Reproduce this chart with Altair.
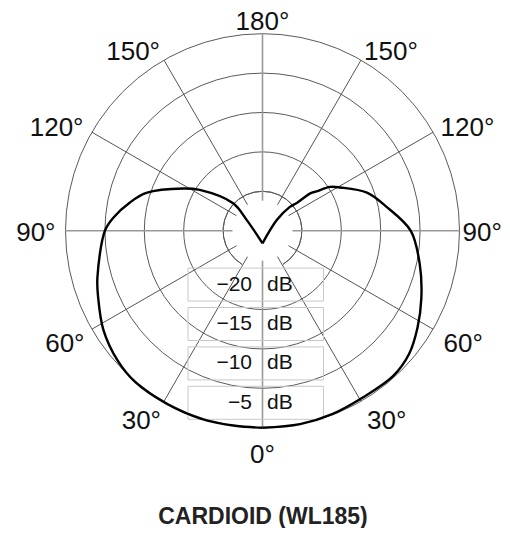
import altair as alt
import pandas as pd

# ---- data ----
# Response path (angle in degrees from the 0° axis; negative = left half), level in dB
left_angle = [0, -124, -133, -123, -118, -108, -102, -95, -90, -74, -68, -58, -48, -40, -29, -18, -8, 0]
left_db = [-23.4, -22.6, -19.9, -15.5, -13.6, -9.5, -7.8, -6.0, -5.0, -3.2, -2.5, -1.2, -0.3, 0.1, 0.1, 0.1, 0.0, 0.0]
right_angle = [0, 11, 21, 31, 42, 50, 58, 67, 78, 90, 101, 110, 119, 123, 126, 128, 129, 131, 127, 0]
right_db = [0.0, 0.0, -0.1, -0.3, -0.2, -0.7, -1.8, -3.1, -4.6, -6.2, -9.0, -10.9, -13.7, -14.8, -16.5, -17.3, -19.4, -20.4, -22.7, -23.4]

ring_db = [-15, -10, -5, 0]
inner_ring_db = [-20]
label_db = [-20, -15, -10, -5]
label_num = ["\u221220", "\u221215", "\u221210", "\u22125"]
spoke_deg = [0, 30, 60, 90, 120, 150, 180, 210, 240, 270, 300, 330]
deg_angle = [0, 30, 60, 90, 120, 150, 180, -30, -60, -90, -120, -150]
deg_text = ["0°", "30°", "60°", "90°", "120°", "150°", "180°", "30°", "60°", "90°", "120°", "150°"]
title_text = "CARDIOID (WL185)"

# ---- geometry / style ----
R = 197.0          # pixel radius of the 0 dB ring
FLOOR = -25.0      # level at the centre
W, H = 494, 520
CX, CY = 254.5, 222.7   # centre of the diagram inside the view, px
xs = alt.Scale(domain=[-CX, W - CX], nice=False, zero=False)
ys = alt.Scale(domain=[-(H - CY), CY], nice=False, zero=False)
RPX = f"{R}*(datum.db-({FLOOR}))/({-FLOOR})"
FONT = "Liberation Sans"
GRID = "#5a5a5a"


def X(f):
    return alt.X(f"{f}:Q", scale=xs, axis=None)


def Y(f):
    return alt.Y(f"{f}:Q", scale=ys, axis=None)


# rings
rings = alt.Chart(pd.DataFrame({"db": ring_db})).transform_calculate(
    r=RPX, s="4*datum.r*datum.r", cx="0", cy="0"
).mark_point(shape="circle", filled=False, stroke=GRID, strokeWidth=1, opacity=1).encode(
    x=X("cx"), y=Y("cy"), size=alt.Size("s:Q", scale=None, legend=None)
)
# innermost ring, open at the bottom where the level labels sit
inner_ring = alt.Chart(pd.DataFrame({"db": inner_ring_db})).transform_calculate(
    r=RPX, cx="0", cy="0", t1="-(PI-0.55)", t2="PI-0.55"
).mark_arc(fillOpacity=0, stroke=GRID, strokeWidth=1).encode(
    x=X("cx"), y=Y("cy"),
    radius=alt.Radius("r:Q", scale=None), radius2="r:Q",
    theta=alt.Theta("t1:Q", scale=None), theta2="t2:Q",
)

# spokes
spokes_base = alt.Chart(pd.DataFrame({"deg": spoke_deg})).transform_calculate(
    a="datum.deg*PI/180",
    x1="30*sin(datum.a)", y1="-30*cos(datum.a)",
    x2=f"{R}*sin(datum.a)", y2=f"-{R}*cos(datum.a)",
)
spokes_diag = spokes_base.transform_filter("datum.deg % 90 != 0").mark_rule(
    color="#555555", strokeWidth=1
).encode(x=X("x1"), y=Y("y1"), x2="x2:Q", y2="y2:Q")
spokes_axis = spokes_base.transform_filter("datum.deg % 90 == 0").mark_rule(
    color="#999999", strokeWidth=1.6
).encode(x=X("x1"), y=Y("y1"), x2="x2:Q", y2="y2:Q")

# dB label boxes and texts
lab = alt.Chart(pd.DataFrame({"db": label_db, "num": label_num})).transform_calculate(
    r=RPX, ly="-(datum.r+14.5)", by1="datum.ly+16.5", by2="datum.ly-16.5",
    bx1="-74.5", bx2="61", tx1="-10.5", tx2="4.5", unit="'dB'"
)
boxes = lab.mark_rect(fillOpacity=0, stroke="#c8c8c8", strokeWidth=1).encode(
    x=X("bx1"), x2="bx2:Q", y=Y("by1"), y2="by2:Q"
)
num_text = lab.mark_text(align="right", baseline="middle", font=FONT, fontSize=21, color="#111").encode(
    x=X("tx1"), y=Y("ly"), text="num:N"
)
unit_text = lab.mark_text(align="left", baseline="middle", font=FONT, fontSize=21, color="#111").encode(
    x=X("tx2"), y=Y("ly"), text="unit:N"
)

# response curve
curve_df = pd.concat([
    pd.DataFrame({"side": "L", "i": range(len(left_angle)), "ang": left_angle, "db": left_db}),
    pd.DataFrame({"side": "R", "i": range(len(right_angle)), "ang": right_angle, "db": right_db}),
])
curve = alt.Chart(curve_df).transform_calculate(
    r=RPX, a="datum.ang*PI/180", x="datum.r*sin(datum.a)", y="-datum.r*cos(datum.a)"
).mark_line(interpolate="catmull-rom", color="#000", strokeWidth=2.4).encode(
    x=X("x"), y=Y("y"), order="i:Q", detail="side:N"
)

# degree labels
deg = alt.Chart(pd.DataFrame({"ang": deg_angle, "txt": deg_text})).transform_calculate(
    a="datum.ang*PI/180", x="209*sin(datum.a)", y="-209*cos(datum.a)"
)
txt_kw = dict(font=FONT, fontSize=26, color="#111")
d_top = deg.transform_filter("datum.ang == 180").mark_text(
    align="center", baseline="alphabetic", dy=8, **txt_kw).encode(x=X("x"), y=Y("y"), text="txt:N")
d_bot = deg.transform_filter("datum.ang == 0").mark_text(
    align="center", baseline="top", dy=2, **txt_kw).encode(x=X("x"), y=Y("y"), text="txt:N")
d_lu = deg.transform_filter("datum.ang <= -90 && datum.ang > -180").mark_text(
    align="right", baseline="middle", dy=2, dx=2, **txt_kw).encode(x=X("x"), y=Y("y"), text="txt:N")
d_ru = deg.transform_filter("datum.ang > 90 && datum.ang < 180").mark_text(
    align="left", baseline="middle", dy=2, dx=-3, **txt_kw).encode(x=X("x"), y=Y("y"), text="txt:N")
d_r90 = deg.transform_filter("datum.ang == 90").mark_text(
    align="left", baseline="middle", dy=2, dx=-9, **txt_kw).encode(x=X("x"), y=Y("y"), text="txt:N")
d_ll = deg.transform_filter("datum.ang < 0 && datum.ang > -90").mark_text(
    align="right", baseline="middle", dy=9, dx=3, **txt_kw).encode(x=X("x"), y=Y("y"), text="txt:N")
d_rl = deg.transform_filter("datum.ang > 0 && datum.ang < 90").mark_text(
    align="left", baseline="middle", dy=9, **txt_kw).encode(x=X("x"), y=Y("y"), text="txt:N")

# title
title = alt.Chart(pd.DataFrame({"t": [title_text]})).transform_calculate(
    x="0.5", y="-286"
).mark_text(align="center", baseline="middle", font=FONT, fontSize=23, fontWeight="bold", color="#222").encode(
    x=X("x"), y=Y("y"), text="t:N"
)

chart = alt.layer(
    rings, inner_ring, spokes_diag, spokes_axis, boxes, num_text, unit_text, curve,
    d_top, d_bot, d_lu, d_ru, d_r90, d_ll, d_rl, title
).properties(
    width=W, height=H, autosize=alt.AutoSizeParams(type="none"), padding=0, background="white"
).configure_view(stroke=None)

chart.save("out.html", embed_options={"renderer": "svg", "actions": False})
